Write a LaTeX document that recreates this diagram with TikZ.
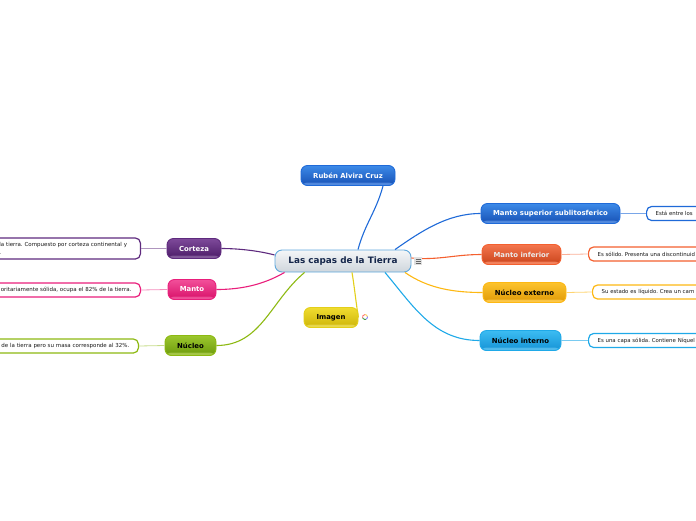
\documentclass[tikz,border=0pt]{standalone}
\usepackage{xcolor}
\usepackage{fontspec}
\setmainfont{DejaVu Sans}
\frenchspacing
\usetikzlibrary{positioning, calc}
\definecolor{navy}{HTML}{14264A}
\definecolor{rootblue}{HTML}{5FA8DC}
\definecolor{roottop}{HTML}{F4F6F8}
\definecolor{rootbot}{HTML}{CFD6DC}
\definecolor{bluelink}{HTML}{1F6AD8}
\definecolor{bluetop}{HTML}{3D8AE8}
\definecolor{bluebot}{HTML}{1650B4}
\definecolor{purplelink}{HTML}{5E2A7E}
\definecolor{purpletop}{HTML}{7E4A9A}
\definecolor{purplebot}{HTML}{4A1A66}
\definecolor{pinklink}{HTML}{E91E7B}
\definecolor{pinktop}{HTML}{F2509A}
\definecolor{pinkbot}{HTML}{D80F68}
\definecolor{greenlink}{HTML}{8DB912}
\definecolor{greentop}{HTML}{9CC72E}
\definecolor{greenbot}{HTML}{6C9A0C}
\definecolor{yellowlink}{HTML}{E3CF1A}
\definecolor{yellowtop}{HTML}{F0DC30}
\definecolor{yellowbot}{HTML}{CDB408}
\definecolor{redlink}{HTML}{F4602F}
\definecolor{redtop}{HTML}{F4764E}
\definecolor{redbot}{HTML}{C9431A}
\definecolor{amberlink}{HTML}{FDB813}
\definecolor{ambertop}{HTML}{FCC32E}
\definecolor{amberbot}{HTML}{E09A06}
\definecolor{skylink}{HTML}{1FA9E8}
\definecolor{skytop}{HTML}{3CBCF2}
\definecolor{skybot}{HTML}{1593D6}
\tikzset{
	topic/.style n args={3}{draw=#1link, line width=0.9pt, rounded corners=6.5pt, top color=#1top, bottom color=#1bot,
		text=#2, font=\fontsize{6.9}{6.9}\selectfont\bfseries, inner sep=0pt, minimum height=20pt, minimum width=#3,
		path picture={\shade[top color=#1bot, bottom color=#1link!75!white] ($(path picture bounding box.south west)+(0,3)$) rectangle (path picture bounding box.south east);}},
	detail/.style={draw=#1, fill=white, line width=1.2pt, rounded corners=5pt, text=black!90,
		inner ysep=2pt, minimum height=14pt},
	detailwest/.style={detail=#1, font=\fontsize{5.4}{8}\selectfont, anchor=west, align=left, inner xsep=9pt, text width=200pt},
	detaileast/.style={detail=#1, font=\fontsize{5.5}{8}\selectfont, anchor=east, align=right, inner xsep=9pt, text width=170pt},
	mainlink/.style={draw=#1, line width=1.1pt},
	sublink/.style={draw=#1, line width=0.8pt}
}
\begin{document}
\begin{tikzpicture}[x=1pt, y=1pt]
	\useasboundingbox (0,0) rectangle (696,-520);
	\node[topic={blue}{white}{94pt}] (autor) at (348,-175.5) {Rubén Alvira Cruz};
	\node[topic={purple}{white}{54pt}] (corteza) at (194,-248.5) {Corteza};
	\node[topic={pink}{white}{48pt}] (manto) at (192,-289.5) {Manto};
	\node[topic={green}{black}{51pt}] (nucleo) at (190.5,-345.5) {Núcleo};
	\node[topic={yellow}{black}{54pt}] (imagen) at (331,-317.5) {Imagen};
	\node[topic={blue}{white}{139pt}] (superior) at (550.5,-213.5) {Manto superior sublitosferico};
	\node[topic={red}{white!92!black}{79pt}] (inferior) at (521.5,-254.5) {Manto inferior};
	\node[topic={amber}{black}{83pt}] (externo) at (524.5,-292.5) {Núcleo externo};
	\node[topic={sky}{black}{81pt}] (interno) at (520.5,-340.5) {Núcleo interno};
	\node[draw=rootblue, line width=0.9pt, rounded corners=7pt, top color=roottop, bottom color=rootbot, text=navy,
		font=\fontsize{8.85}{8.85}\selectfont\bfseries, inner sep=0pt, minimum width=136pt, minimum height=22pt] (root) at (343,-261) {Las capas de la Tierra};
	\node[detaileast=purplelink, align=left, text width=128pt, inner xsep=13pt, minimum height=21pt] (cortezatext) at (141,-248.5) {la tierra. Compuesto por corteza continental y\\.};
	\node[detaileast=pinklink] (mantotext) at (141,-290) {oritariamente sólida, ocupa el 82\% de la tierra.};
	\node[detaileast=greenlink] (nucleotext) at (139,-346) {de la tierra pero su masa corresponde al 32\%.};
	\node[detailwest=bluelink] (superiortext) at (646,-213.5) {Está entre los};
	\node[detailwest=redlink] (inferiortext) at (588,-254) {Es sólido. Presenta una discontinuid};
	\node[detailwest=amberlink] (externotext) at (592,-292) {Su estado es líquido. Crea un cam};
	\node[detailwest=skylink] (internotext) at (588,-340.5) {Es una capa sólida. Contiene Níquel};
	\draw[mainlink=bluelink] ($(root.north)+(15,0)$) to[out=75, in=-105, looseness=1] ($(autor.south)+(35,0)$);
	\draw[mainlink=bluelink] ($(root.north)+(52,0)$) to[out=35, in=180, looseness=0.9] (superior.west);
	\draw[mainlink=redlink] ($(root.east)+(0,3)$) to[out=-5, in=180, looseness=1] (inferior.west);
	\draw[mainlink=amberlink] ($(root.south)+(62,0)$) to[out=-35, in=180, looseness=0.9] (externo.west);
	\draw[mainlink=skylink] ($(root.south)+(42,0)$) to[out=-50, in=180, looseness=1] (interno.west);
	\draw[mainlink=purplelink] ($(root.west)+(0,6)$) to[out=165, in=0, looseness=0.8] (corteza.east);
	\draw[mainlink=pinklink] ($(root.south west)+(10,0)$) to[out=-150, in=0, looseness=0.9] (manto.east);
	\draw[mainlink=greenlink] ($(root.south west)+(30,0)$) to[out=-140, in=0, looseness=1] (nucleo.east);
	\draw[mainlink=yellowlink] ($(root.south)+(9,0)$) to[out=-80, in=100, looseness=0.7] (imagen.east);
	\draw[sublink=purplelink!50] (corteza.west) -- (cortezatext.east);
	\draw[sublink=pinklink!50] (manto.west) -- (mantotext.east);
	\draw[sublink=greenlink!50] (nucleo.west) -- (nucleotext.east);
	\draw[sublink=bluelink!60] (superior.east) -- (superiortext.west);
	\draw[sublink=redlink!50] (inferior.east) -- (inferiortext.west);
	\draw[sublink=amberlink!60] (externo.east) -- (externotext.west);
	\draw[sublink=skylink!60] (interno.east) -- (internotext.west);
	\fill[black!12] (414,-257) rectangle (422,-265);
	\foreach \y in {-259,-261,-263}
		\draw[black!60, line width=0.7pt] (415.5,\y) -- (420.5,\y);
	\draw[red!55, line width=0.9pt] (365,-314.5) arc (90:200:2.5);
	\draw[green!45!black!70, line width=0.9pt] (362.6,-317.9) arc (200:300:2.5);
	\draw[blue!45, line width=0.9pt] (366.2,-319.2) arc (300:380:2.5);
	\draw[amberlink!70, line width=0.9pt] (367.4,-316.6) arc (10:90:2.5);
\end{tikzpicture}
\end{document}
